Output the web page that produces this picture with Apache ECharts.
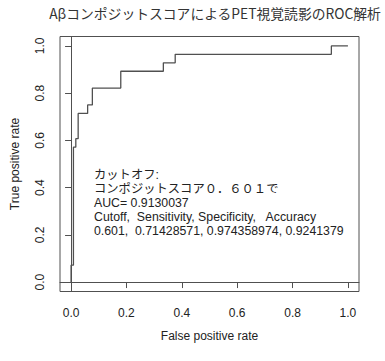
<!DOCTYPE html>
<html><head><meta charset="utf-8">
<script src="https://cdn.jsdelivr.net/npm/echarts@6/dist/echarts.min.js"></script>
<style>html,body{margin:0;padding:0;background:#fff}#c{width:385px;height:361px}</style>
</head><body><div id="c"></div>
<script>
// ROC curve corner points (false positive rate, true positive rate)
const fpr = [0, 0, 0.0085, 0.0085, 0.0171, 0.0171, 0.0256, 0.0256, 0.0598, 0.0598, 0.0769, 0.0769, 0.1795, 0.1795, 0.3333, 0.3333, 0.3761, 0.3761, 0.9402, 0.9402, 1];
const tpr = [0, 0.0714, 0.0714, 0.5714, 0.5714, 0.6071, 0.6071, 0.7143, 0.7143, 0.75, 0.75, 0.8214, 0.8214, 0.8929, 0.8929, 0.9286, 0.9286, 0.9643, 0.9643, 1, 1];
const tickValues = [0, 0.2, 0.4, 0.6, 0.8, 1.0];
const tickLabels = ['0.0', '0.2', '0.4', '0.6', '0.8', '1.0'];
const titleText = 'Aβコンポジットスコアによる PET視覚読影のROC解析'.replace(' ', '');
const noteLines = [
  'カットオフ:',
  'コンポジットスコア０．６０１で',
  'AUC= 0.9130037',
  'Cutoff,  Sensitivity, Specificity,   Accuracy',
  '0.601,  0.71428571, 0.974358974, 0.9241379'
];
const xName = 'False positive rate';
const yName = 'True positive rate';

const FONT = '"Liberation Sans", Arial, "Noto Sans CJK JP", sans-serif';
const lineCol = '#505050';
const textCol = '#222';
const fmt = v => tickLabels[tickValues.findIndex(t => Math.abs(t - v) < 1e-9)] ?? v.toFixed(1);

const chart = echarts.init(document.getElementById('c'), null, { renderer: 'svg' });
chart.setOption({
  animation: false,
  backgroundColor: '#fff',
  grid: { left: 60, right: 26, top: 36.5, bottom: 69.5, show: true, borderColor: lineCol, borderWidth: 1, backgroundColor: 'transparent' },
  xAxis: {
    type: 'value', min: -0.04, max: 1.04,
    splitLine: { show: false },
    axisLine: { show: true, lineStyle: { color: lineCol, width: 1 } },
    axisTick: { show: true, customValues: tickValues, length: 6, lineStyle: { color: lineCol } },
    axisLabel: { customValues: tickValues, formatter: fmt, margin: 15, fontSize: 12, color: textCol, fontFamily: FONT },
    name: xName, nameLocation: 'middle', nameGap: 38,
    nameTextStyle: { fontSize: 12, color: textCol, fontFamily: FONT }
  },
  yAxis: {
    type: 'value', min: -0.04, max: 1.04,
    splitLine: { show: false },
    axisLine: { show: true, lineStyle: { color: lineCol, width: 1 } },
    axisTick: { show: true, customValues: tickValues, length: 6, lineStyle: { color: lineCol } },
    axisLabel: { customValues: tickValues, formatter: fmt, rotate: 90, margin: 14, fontSize: 12, color: textCol, fontFamily: FONT },
    name: yName, nameLocation: 'middle', nameGap: 39,
    nameTextStyle: { fontSize: 12, color: textCol, fontFamily: FONT }
  },
  series: [{
    type: 'line',
    data: fpr.map((x, i) => [x, tpr[i]]),
    showSymbol: false,
    lineStyle: { color: lineCol, width: 1.3 },
    silent: true
  }],
  graphic: [
    { type: 'text', x: 215, y: 13, style: { text: titleText, fontSize: 13.8, fill: '#333', fontFamily: '"Noto Sans CJK JP", sans-serif', align: 'center', verticalAlign: 'middle' } },
    { type: 'text', x: 94, y: 168, style: { text: noteLines.join('\n'), fontSize: 12.3, lineHeight: 14, fill: textCol, fontFamily: FONT, align: 'left', verticalAlign: 'top' } }
  ]
});
</script></body></html>
